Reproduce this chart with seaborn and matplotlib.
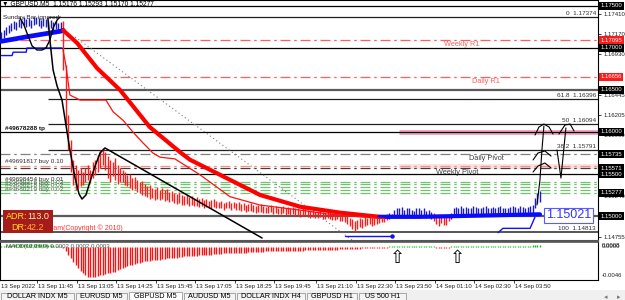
import numpy as np
import matplotlib
matplotlib.use("Agg")
import matplotlib.pyplot as plt
import matplotlib.transforms as mtransforms
from matplotlib.patches import Rectangle
import seaborn as sns

# ---------------- data ----------------
# GBPUSD M5 bars, high / low of every bar (bar 0 = 13 Sep 10:25)
bar_high = [
    1.1719, 1.1721, 1.1725, 1.1727, 1.1730, 1.1732, 1.1731, 1.1734, 1.1733, 1.1737,
    1.1734, 1.1736, 1.1733, 1.1737, 1.1737, 1.1736, 1.1733, 1.1736, 1.1734, 1.1732,
    1.1733, 1.1731, 1.1732, 1.1730, 1.1731,
    1.1732, 1.1680, 1.1620, 1.1590, 1.1567, 1.1561, 1.1555, 1.1557, 1.1552,
    1.1557, 1.1561, 1.1555, 1.1564, 1.1567, 1.1573, 1.1579, 1.1581, 1.1576,
    1.1571, 1.1567, 1.1564, 1.1569, 1.1561, 1.1557,
    1.1555, 1.1552, 1.1549, 1.1550, 1.1545, 1.1546, 1.1543, 1.1540, 1.1542, 1.1538,
    1.1536, 1.1537, 1.1533, 1.1532, 1.1535, 1.1531,
    1.1533, 1.1531, 1.1532, 1.1528, 1.1530, 1.1527, 1.1526, 1.1528, 1.1525, 1.1524,
    1.1525, 1.1523,
    1.1524, 1.1521, 1.1523, 1.1520, 1.1521, 1.1519, 1.1520, 1.1518, 1.1519, 1.1520,
    1.1518, 1.1517, 1.1518, 1.1516, 1.1517, 1.1518, 1.1516,
    1.1517, 1.1516, 1.1517, 1.1514, 1.1516, 1.1513, 1.1514, 1.1516, 1.1513, 1.1512,
    1.1513, 1.1514, 1.1512, 1.1511, 1.1512, 1.1513, 1.1511, 1.1512, 1.1510, 1.1511,
    1.1512, 1.1510,
    1.1511, 1.1510, 1.1511, 1.1509, 1.1510, 1.1507, 1.1509, 1.1510, 1.1507, 1.1506,
    1.1507, 1.1505, 1.1506, 1.1507, 1.1505, 1.1504, 1.1505, 1.1506, 1.1504, 1.1502,
    1.1504, 1.1501, 1.1502,
    1.1502, 1.1500, 1.1498, 1.1497, 1.1494, 1.1495, 1.1498, 1.1497, 1.1499, 1.1498,
    1.1500, 1.1499, 1.1498, 1.1500, 1.1499, 1.1501, 1.1500, 1.1502, 1.1504, 1.1502,
    1.1507, 1.1510, 1.1509, 1.1511, 1.1507, 1.1509, 1.1510, 1.1507, 1.1506, 1.1509,
    1.1510, 1.1507, 1.1509, 1.1506, 1.1507, 1.1505,
    1.1504, 1.1501, 1.1500, 1.1502, 1.1501, 1.1499, 1.1502, 1.1504,
    1.1510, 1.1511, 1.1509, 1.1512, 1.1510, 1.1511, 1.1509, 1.1510, 1.1512, 1.1511,
    1.1510, 1.1509, 1.1511, 1.1512, 1.1510, 1.1509, 1.1511, 1.1510, 1.1511, 1.1512,
    1.1510, 1.1509, 1.1510, 1.1511, 1.1512, 1.1511, 1.1510, 1.1512, 1.1511, 1.1510,
    1.1511, 1.1512,
    1.1513, 1.1521, 1.1527, 1.15293,
]
bar_low = [
    1.1708, 1.1712, 1.1715, 1.1718, 1.1720, 1.1723, 1.1721, 1.1725, 1.1724, 1.1727,
    1.1725, 1.1726, 1.1724, 1.1727, 1.1728, 1.1726, 1.1724, 1.1726, 1.1725, 1.1723,
    1.1724, 1.1721, 1.1723, 1.1720, 1.1719,
    1.1674, 1.1609, 1.1579, 1.1552, 1.1537, 1.1531, 1.1533, 1.1536, 1.1537,
    1.1540, 1.1543, 1.1539, 1.1545, 1.1549, 1.1552, 1.1557, 1.1561, 1.1555,
    1.1545, 1.1540, 1.1548, 1.1543, 1.1538, 1.1540,
    1.1540, 1.1537, 1.1536, 1.1533, 1.1531, 1.1532, 1.1529, 1.1527, 1.1525, 1.1524,
    1.1523, 1.1520, 1.1521, 1.1519, 1.1520, 1.1519,
    1.1520, 1.1518, 1.1519, 1.1517, 1.1518, 1.1515, 1.1514, 1.1515, 1.1513, 1.1513,
    1.1514, 1.1512,
    1.1513, 1.1512, 1.1512, 1.1511, 1.1512, 1.1510, 1.1511, 1.1510, 1.1510, 1.1511,
    1.1509, 1.1509, 1.1510, 1.1507, 1.1509, 1.1509, 1.1507,
    1.1509, 1.1507, 1.1507, 1.1506, 1.1507, 1.1505, 1.1506, 1.1506, 1.1505, 1.1504,
    1.1505, 1.1505, 1.1504, 1.1504, 1.1504, 1.1505, 1.1502, 1.1504, 1.1502, 1.1502,
    1.1504, 1.1501,
    1.1502, 1.1501, 1.1502, 1.1500, 1.1501, 1.1499, 1.1500, 1.1500, 1.1499, 1.1498,
    1.1499, 1.1498, 1.1498, 1.1499, 1.1497, 1.1497, 1.1498, 1.1497, 1.1495, 1.1495,
    1.1497, 1.1494, 1.1494,
    1.1493, 1.1491, 1.1488, 1.1485, 1.14813, 1.1485, 1.1487, 1.1486, 1.1488, 1.1489,
    1.1491, 1.1488, 1.1489, 1.1491, 1.1492, 1.1493, 1.1493, 1.1495, 1.1497, 1.1498,
    1.1499, 1.1500, 1.1499, 1.1501, 1.1498, 1.1499, 1.1500, 1.1498, 1.1498, 1.1499,
    1.1500, 1.1499, 1.1499, 1.1498, 1.1498, 1.1497,
    1.1494, 1.1491, 1.1488, 1.1492, 1.1489, 1.1489, 1.1494, 1.1497,
    1.1501, 1.1502, 1.1500, 1.1502, 1.1501, 1.1502, 1.1500, 1.1501, 1.1502, 1.1502,
    1.1501, 1.1500, 1.1501, 1.1502, 1.1501, 1.1500, 1.1501, 1.1501, 1.1502, 1.1502,
    1.1501, 1.1500, 1.1501, 1.1501, 1.1502, 1.1502, 1.1501, 1.1502, 1.1501, 1.1501,
    1.1502, 1.1502,
    1.1501, 1.1510, 1.1516, 1.15170,
]

# MACD(12,26,9) histogram, one value per bar
macd_hist = [
    0.0002, 0.0002, 0.0003, 0.0003, 0.0003, 0.0004, 0.0004, 0.0004, 0.0005, 0.0005,
    0.0005, 0.0005, 0.0005, 0.0005, 0.0005, 0.0005, 0.0004, 0.0004, 0.0004, 0.0003,
    0.0003, 0.0003, 0.0002, 0.0002, 0.0001,
    -0.0002, -0.0007, -0.0012, -0.0018, -0.0024, -0.0029, -0.0034, -0.0038, -0.0042, -0.0045,
    -0.0047, -0.0048, -0.0048, -0.0047, -0.0046, -0.0045, -0.0044, -0.0043, -0.0042, -0.0041,
    -0.0040, -0.0039, -0.0037, -0.0035, -0.0034, -0.0032, -0.0031, -0.0029, -0.0028, -0.0027,
    -0.0026, -0.0025, -0.0024, -0.0023, -0.0022, -0.0022, -0.0021, -0.0021, -0.0020, -0.0020,
    -0.0019, -0.0019, -0.0018, -0.0018, -0.0017, -0.0017, -0.0017, -0.0016,
    -0.0016, -0.0015, -0.0015, -0.0015, -0.0014, -0.0014, -0.0014, -0.0013, -0.0013, -0.0013,
    -0.0012, -0.0012,
    -0.0012, -0.0011, -0.0011, -0.0011, -0.0011, -0.0010, -0.0010, -0.0010, -0.0010, -0.0010,
    -0.0009, -0.0009, -0.0009, -0.0009, -0.0009, -0.0008,
    -0.0008, -0.0008, -0.0008, -0.0008, -0.0008, -0.0008, -0.0007, -0.0007, -0.0007, -0.0007,
    -0.0007, -0.0007, -0.0007, -0.0006, -0.0006, -0.0006, -0.0006, -0.0006, -0.0006, -0.0006,
    -0.0006, -0.0006, -0.0005, -0.0005, -0.0005, -0.0005, -0.0005, -0.0005, -0.0005, -0.0004,
    -0.0004, -0.0004, -0.0004, -0.0004, -0.0004, -0.0004, -0.0003, -0.0003, -0.0003, -0.0003,
    -0.0003, -0.0003, -0.0003, -0.0003, -0.0003, -0.0002, -0.0002, -0.0002, -0.0002, -0.0002,
    -0.0002, -0.0001, -0.0001, -0.0001, -0.0001, -0.0001,
    0.0002, 0.0002, 0.0002, 0.0002, 0.0002, 0.0002, 0.0002, 0.0002, 0.0002, 0.0002,
    0.0002, 0.0002, 0.0002, 0.0002, 0.0002, 0.0002, 0.0002, 0.0002, 0.0002,
    -0.0001, -0.0001, -0.0001, -0.0001, -0.0001, -0.0001,
    0.0002, 0.0002, 0.0002, 0.0002, 0.0002, 0.0002, 0.0002, 0.0002, 0.0002, 0.0002,
    0.0002, 0.0002, 0.0002, 0.0002, 0.0002, 0.0002, 0.0002, 0.0002, 0.0002, 0.0002,
    0.0002, 0.0002, 0.0002, 0.0002, 0.0002, 0.0002, 0.0002, 0.0002, 0.0002, 0.0002,
    0.0002, 0.0002, 0.0002,
    0.0003, 0.0003, 0.0003, 0.0003,
]

# thick moving average: blue while rising, red while falling
ma_up1_bar = [0, 11.5, 24, 25]
ma_up1_price = [1.1708, 1.1714, 1.1720, 1.1721]
ma_down_bar = [25, 30.6, 38.7, 48, 60, 72.3, 76.3, 88.5, 104.7, 121, 137, 153]
ma_down_price = [1.1721, 1.1706, 1.1676, 1.1650, 1.1606, 1.1576, 1.1567, 1.1549,
                 1.1525, 1.1511, 1.1504, 1.1499]
ma_up2_bar = [153, 169.4, 185.6, 201.8, 218]
ma_up2_price = [1.1499, 1.1499, 1.1500, 1.1501, 1.1502]

# thin trailing stop line
stop_up1_bar = [0, 4.3, 4.7, 10.0, 10.3, 24.5]
stop_up1_price = [1.1691, 1.1691, 1.1695, 1.1695, 1.1700, 1.1700]
stop_down_bar = [24.9, 26.1, 27.7, 31.8, 42.3, 45.2, 49.2, 53.2, 57.3, 61.3, 64.2, 70.2,
                 80.4, 92.5, 104.7, 121, 133, 145, 155]
stop_down_price = [1.1698, 1.1679, 1.1644, 1.1638, 1.1638, 1.1624, 1.1614, 1.1600,
                   1.1587, 1.1575, 1.1570, 1.1568, 1.1549, 1.1523, 1.1513, 1.1507,
                   1.1502, 1.1499, 1.1497]
stop_up2_bar = [201, 203, 214, 216]
stop_up2_price = [1.14801, 1.14853, 1.14853, 1.14988]
blue_seg_bar = [139.1, 158.1]
blue_seg_price = [1.14762, 1.14762]

# hand drawn lines
wave_bar = [7.5, 9.1, 10.3, 12.4, 14.4, 16.4, 18.0, 19.6, 20.9, 22.5, 23.7]
wave_price = [1.17357, 1.17274, 1.17179, 1.17024, 1.16976, 1.16976, 1.17000,
              1.17095, 1.17238, 1.17333, 1.17369]
drop_bar = [18.8, 19.6, 20.9, 22.5, 24.5, 26.1, 27.7, 29.8, 31.4, 32.6, 34.2, 35.8,
            37.9, 39.9, 41.9, 105.5]
drop_price = [1.17357, 1.17095, 1.16738, 1.16548, 1.16381, 1.16083, 1.15786, 1.15452,
              1.15262, 1.15202, 1.15250, 1.15405, 1.15595, 1.15750, 1.15810, 1.14738]
dotted_bar = [29.8, 141.9]
dotted_price = [1.17131, 1.14714]
arrow1_stem_bar = [216.8, 218.0, 218.8, 219.6]
arrow1_stem_price = [1.15131, 1.15429, 1.15786, 1.16071]
arrow1_head_bar = [216.0, 217.6, 219.6, 221.7, 223.3]
arrow1_head_price = [1.15964, 1.16059, 1.16095, 1.16059, 1.15976]
arc_a_bar = [215.2, 217.2, 220.0, 222.5]
arc_a_price = [1.15667, 1.15750, 1.15774, 1.15714]
arc_b_bar = [215.2, 217.2, 220.0, 222.5]
arc_b_price = [1.15524, 1.15595, 1.15631, 1.15571]
arrow2_stem_bar = [224.9, 226.5, 228.5]
arrow2_stem_price = [1.15786, 1.15452, 1.16048]
arrow2_head_bar = [225.7, 228.1, 230.2, 231.8]
arrow2_head_price = [1.15976, 1.16083, 1.16095, 1.16012]

# levels
round_levels = [1.17500, 1.17000, 1.16000, 1.15500]
half_levels = [1.16500, 1.15000]
fib_names = ["0", "61.8", "50", "38.2", "100"]
fib_prices = [1.17374, 1.16396, 1.16094, 1.15791, 1.14813]
pivot_names = ["Weekly R1", "Daily R1", "Daily Pivot", "Weekly Pivot"]
pivot_prices = [1.17095, 1.16656, 1.15735, 1.15571]
pivot_label_bar = [186.4, 196.2, 196.2, 184.4]
order_prices = [1.15408, 1.15377, 1.15345, 1.15313, 1.15277]
order_labels = ["#49678288 tp", "#49691817 buy 0.10", "#49698454 buy 0.01",
                "#49680218 buy 0.02", "#49680218 buy 0.02", "#49680219 buy 0.02"]
boxed_black = [1.17500, 1.17000, 1.16500, 1.16000, 1.15735, 1.15571, 1.15500,
               1.15277, 1.15000]
boxed_red = [1.17095, 1.16656]
price_ticks = [1.17410, 1.17170, 1.16930, 1.16445, 1.16205, 1.15960, 1.15240, 1.14755]
macd_tick_vals = [0.0003, 0.0001, -0.0046]
macd_tick_text = ["0.0008", "0.0000", "-0.0046"]
buy_arrow_bars = [160.5, 184.8]
time_bars = [0, 16, 32, 48, 64, 80, 96, 112, 129, 145, 161, 177, 193, 209]
time_labels = ["13 Sep 2022", "13 Sep 11:45", "13 Sep 13:05", "13 Sep 14:25",
               "13 Sep 15:45", "13 Sep 17:05", "13 Sep 18:25", "13 Sep 19:45",
               "13 Sep 21:10", "13 Sep 22:30", "13 Sep 23:50", "14 Sep 01:10",
               "14 Sep 02:30", "14 Sep 03:50"]
tab_names = ["DOLLAR INDX M5", "EURUSD M5", "GBPUSD M5", "AUDUSD M5",
             "DOLLAR INDX H4", "GBPUSD H1", "US 500 H1"]

# ---------------- figure ----------------
sns.set_theme(style="white")
plt.rcParams['font.family'] = ['Liberation Sans', 'DejaVu Sans']

W, H = 625, 300
fig = plt.figure(figsize=(W / 100, H / 100), dpi=100)


def rect(x0, y0, x1, y1):
    return [x0 / W, 1 - y1 / H, (x1 - x0) / W, (y1 - y0) / H]


def fx(x):
    return x / W


def fy(y):
    return 1 - y / H


ax = fig.add_axes(rect(0, 0, 598, 241))
axm = fig.add_axes(rect(0, 242, 598, 280))
axt = fig.add_axes(rect(0, 290, 625, 300))

XMIN, XMAX = -0.6, 241.5
ax.set_xlim(XMIN, XMAX)
ax.set_ylim(1.147024, 1.175714)
axm.set_xlim(XMIN, XMAX)
axm.set_ylim(-0.005247, 0.000795)


def line(axis, xs, ys, **kw):
    sns.lineplot(x=xs, y=ys, ax=axis, estimator=None, sort=False, legend=False, **kw)


DASHDOT = (0, (8, 3, 2, 3))
SMALL = 4.3

# horizontal levels
ax.hlines(round_levels, XMIN, XMAX, color="black", lw=0.9, zorder=1)
ax.hlines(half_levels, XMIN, XMAX, color="#5a5a5a", lw=1.6, zorder=1)
ax.hlines(1.16000, 161, XMAX, color="#f2a0c4", lw=3.5, zorder=0.8)
ax.fill_between([161, XMAX], 1.15565, 1.15615, color="#fbe0e4", lw=0, zorder=0.5)
for name, p in zip(fib_names, fib_prices):
    start = XMIN if name == "100" else 18.8
    ax.hlines(p, start, XMAX, color="#202020" if name != "100" else "#555555",
              lw=0.9 if name != "100" else 1.4, zorder=1)
    ax.text(240.6, p + 0.00008, f"{name}  {p:.5f}", ha="right", va="bottom",
            fontsize=4.6, color="#303030", zorder=6)

pivot_colors = ["#ff5e5e", "#ff5e5e", "#808080", "#404040"]
label_colors = ["#ff5e5e", "#ff5e5e", "#404040", "#404040"]
for name, p, xb, c, lc in zip(pivot_names, pivot_prices, pivot_label_bar,
                              pivot_colors, label_colors):
    ax.hlines(p, XMIN, XMAX, color=c, lw=0.9, linestyles=[DASHDOT], zorder=1.2)
    ax.text(xb, p - 0.00012, name, ha="center", va="top", fontsize=5.3,
            color=lc, zorder=6)
ax.hlines(1.15601, XMIN, XMAX, color="#ff8a8a", lw=0.9, linestyles=[DASHDOT], zorder=1.2)
ax.hlines(order_prices, XMIN, XMAX, color="#72c472", lw=0.9,
          linestyles=[DASHDOT], zorder=1.2)

# price bars coloured against the moving average
bars = np.arange(len(bar_high))
hi = np.array(bar_high)
lo = np.array(bar_low)
ma_all_bar = ma_up1_bar + ma_down_bar[1:] + ma_up2_bar[1:]
ma_all_price = ma_up1_price + ma_down_price[1:] + ma_up2_price[1:]
ma_at_bar = np.interp(bars, ma_all_bar, ma_all_price)
bar_cols = np.where((hi + lo) / 2 >= ma_at_bar, "#1c1cc4", "#ff1c1c")
ax.vlines(bars, lo, hi, colors=bar_cols, lw=1.0, zorder=3)

# indicator lines
line(ax, ma_up1_bar, ma_up1_price, color="#0a0aff", lw=3.4, zorder=4)
line(ax, ma_down_bar, ma_down_price, color="#ff0000", lw=3.0, zorder=4)
line(ax, ma_up2_bar, ma_up2_price, color="#0a0aff", lw=3.0, zorder=4)
line(ax, stop_up1_bar, stop_up1_price, color="#1010ff", lw=1.0, zorder=4)
line(ax, stop_down_bar, stop_down_price, color="#ff1010", lw=0.9, zorder=4)
line(ax, stop_up2_bar, stop_up2_price, color="#1010ff", lw=1.0, zorder=4)
line(ax, blue_seg_bar, blue_seg_price, color="#1010ff", lw=1.0, zorder=4)
ax.plot(blue_seg_bar[-1], blue_seg_price[-1], "o", ms=2.2, color="#1010ff", zorder=4)

# hand drawn objects
line(ax, dotted_bar, dotted_price, color="#7a7a7a", lw=0.8,
     linestyle=(0, (1, 2.5)), zorder=2)
line(ax, wave_bar, wave_price, color="black", lw=1.0, zorder=5)
line(ax, drop_bar, drop_price, color="black", lw=1.1, zorder=5)
for xs, ys in [(arrow1_stem_bar, arrow1_stem_price), (arrow1_head_bar, arrow1_head_price),
               (arc_a_bar, arc_a_price), (arc_b_bar, arc_b_price),
               (arrow2_stem_bar, arrow2_stem_price), (arrow2_head_bar, arrow2_head_price)]:
    line(ax, xs, ys, color="black", lw=0.8, zorder=5)

# price label object
ax.text(220.4, 1.15006, "1.15021", color="#3434ff", fontsize=9, ha="left", va="center",
        zorder=7, bbox=dict(boxstyle="square,pad=0.15", fc="white", ec="#5a5aff", lw=0.8))

# right price scale
ax.yaxis.tick_right()
ax.set_yticks(price_ticks)
ax.set_yticklabels([f"{v:.5f}" for v in price_ticks])
ax.set_xticks([])
ax.tick_params(axis="y", direction="out", length=2.5, width=0.6, labelsize=SMALL,
               pad=1.2, colors="#202020", right=True, left=False)
ytrans = mtransforms.blended_transform_factory(ax.transAxes, ax.transData)
for p in boxed_black:
    ax.text(1.0045, p, f"{p:.5f}", transform=ytrans, fontsize=SMALL, color="white",
            va="center", ha="left", clip_on=False, zorder=8,
            bbox=dict(boxstyle="square,pad=0.22", fc="black", ec="none"))
for p in boxed_red:
    ax.text(1.0045, p, f"{p:.5f}", transform=ytrans, fontsize=SMALL, color="white",
            va="center", ha="left", clip_on=False, zorder=8,
            bbox=dict(boxstyle="square,pad=0.22", fc="#ff1a1a", ec="none"))

for s in ["left", "top", "right"]:
    ax.spines[s].set_color("black")
    ax.spines[s].set_linewidth(0.8)
ax.spines["bottom"].set_color("#555555")
ax.spines["bottom"].set_linewidth(1.5)

# MACD window
hist = np.array(macd_hist)
axm.vlines(np.arange(len(hist)), 0, hist, lw=1.0,
           colors=np.where(hist >= 0, "#1fae1f", "#ff1010"), zorder=2)
for xb in buy_arrow_bars:
    axm.text(xb, -0.00175, "\u21e7", fontsize=13, ha="center", va="center",
             color="black", family=["DejaVu Sans"], zorder=5)
axm.text(2, 0.00005, "MACD(12,26,9) 0.0002 0.0002 0.0003", fontsize=4.4,
         color="#555555", va="center", ha="left", zorder=4)
axm.set_yticks([])
mtrans = mtransforms.blended_transform_factory(axm.transAxes, axm.transData)
for v, t in zip(macd_tick_vals, macd_tick_text):
    axm.text(1.006, v, t, transform=mtrans, fontsize=SMALL, color="#202020",
             va="center", ha="left", clip_on=False)
axm.set_xticks([b - 1.5 for b in time_bars[1:]])
axm.set_xticklabels([])
axm.tick_params(axis="x", direction="out", length=2, width=0.6, bottom=True,
                colors="#202020")
xtrans = mtransforms.blended_transform_factory(axm.transData, axm.transAxes)
for i, (b, t) in enumerate(zip(time_bars, time_labels)):
    xpos = XMIN + 0.5 if i == 0 else b - 1.5 + 0.4
    axm.text(xpos, -0.16, t, transform=xtrans, fontsize=SMALL, color="#202020",
             ha="left", va="center", clip_on=False)
for s in ["left", "bottom", "right"]:
    axm.spines[s].set_color("black")
    axm.spines[s].set_linewidth(0.8)
axm.spines["top"].set_color("#555555")
axm.spines["top"].set_linewidth(1.2)

# tab bar
axt.set_xlim(0, 625)
axt.set_ylim(10, 0)
axt.axis("off")
axt.add_patch(Rectangle((0, 0), 625, 10, fc="#f0f0f0", ec="none"))
tab_edges = [0, 75, 128, 183, 236, 306, 358, 407]
for i, name in enumerate(tab_names):
    x0, x1 = tab_edges[i], tab_edges[i + 1]
    active = name == "GBPUSD M5"
    axt.add_patch(Rectangle((x0 + 1, 1.5 if active else 2.5), x1 - x0 - 2, 9,
                            fc="white" if active else "#f4f4f4", ec="#9a9a9a", lw=0.6))
    axt.text((x0 + x1) / 2, 6.6, name, ha="center", va="center", fontsize=5.2,
             color="black")
axt.text(606, 6.6, "\u25c2", fontsize=5, color="#777777", ha="center", va="center",
         family=["DejaVu Sans"])
axt.text(619, 6.6, "\u25b8", fontsize=5, color="#777777", ha="center", va="center",
         family=["DejaVu Sans"])

# texts placed on the chart window
fig.text(fx(2), fy(4), "\u25bc GBPUSD,M5  1.15176 1.15293 1.15170 1.15277",
         fontsize=4.8, color="black", va="center", ha="left",
         family=["Liberation Sans", "DejaVu Sans"])
fig.text(fx(3), fy(17.5), "Sunday Bar ignored", fontsize=4.6, color="#202020",
         va="center", ha="left")
order_y = [129, 162, 179, 182.5, 186, 189.5]
order_cols = ["#101010", "#303030", "#303030", "#4d6d4d", "#4d6d4d", "#4d6d4d"]
for t, yy, c in zip(order_labels, order_y, order_cols):
    fig.text(fx(5), fy(yy), t, fontsize=4.6, color=c, va="center", ha="left",
             fontweight="bold" if t.endswith("tp") else "normal")

fig.text(fx(51), fy(228), "ram(Copyright \u00a9 2010)", fontsize=5.0, color="#ff3434",
         va="center", ha="left", zorder=0.5)
fig.add_artist(Rectangle((fx(3), fy(233)), 50 / W, 23 / H, transform=fig.transFigure,
                         fc="#a61c1c", ec="none", zorder=1))
fig.text(fx(6), fy(216.5), "ADR:", fontsize=6.5, color="#ffe21a", va="center", zorder=3)
fig.text(fx(27), fy(216.5), "113.0", fontsize=6.5, color="#fff2a0", va="center", zorder=3)
fig.text(fx(11), fy(228), "DR:", fontsize=6.5, color="#ffe21a", va="center", zorder=3)
fig.text(fx(27), fy(228), "42.2", fontsize=6.5, color="#ffb030", va="center", zorder=3)

fig.savefig("out.png", dpi=100)
